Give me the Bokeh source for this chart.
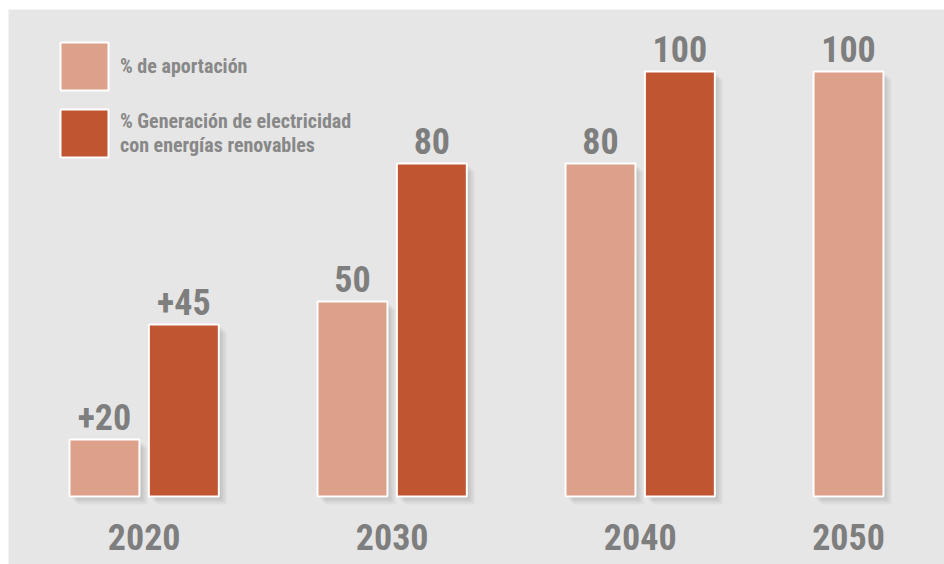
from bokeh.plotting import figure
from bokeh.models import ColumnDataSource, Range1d, Legend, LegendItem
from bokeh.core.properties import value
from bokeh.embed import file_html
from bokeh.resources import INLINE

# ---- data ----
years = ["2020", "2030", "2040", "2050"]
aportacion = [20, 50, 80, 100]
generacion = [45, 80, 100, None]
aport_labels = ["+20", "50", "80", "100"]
gen_labels = ["+45", "80", "100", ""]
series_names = ["% de aportación",
                "% Generación de electricidad\ncon energías renovables"]

# ---- style ----
LIGHT = "#dda08a"
DARK = "#c05532"
BG = "#e6e6e6"
TXT = "#7e7e7e"
LEG_TXT = "#888888"
FONT = "Roboto Condensed"
W, H = 944, 564
BASE = 7.6        # baseline value of the (non to scale) infographic bars
OFF = 0.16        # dodge between the two series within a year group
BAR_W = 0.282

idx = list(range(len(years)))
xa = [i - OFF for i in idx]
xg = [i + OFF for i in idx]

src_a = ColumnDataSource(dict(x=xa, top=aportacion, label=aport_labels))
gi = [i for i in idx if generacion[i] is not None]
src_g = ColumnDataSource(dict(x=[xg[i] for i in gi], top=[generacion[i] for i in gi],
                              label=[gen_labels[i] for i in gi]))
year_x = [xa[i] if generacion[i] is None else i for i in idx]
src_y = ColumnDataSource(dict(x=year_x, y=[BASE] * len(years), label=years))

p = figure(width=W, height=H,
           x_range=Range1d(-0.547, 3.227), y_range=Range1d(-7.17, 113.48),
           output_backend="svg", toolbar_location=None,
           min_border_left=8, min_border_top=9, min_border_right=0, min_border_bottom=0,
           background_fill_color=BG, border_fill_color="white", outline_line_color=None)
p.axis.visible = False
p.grid.visible = False

# soft drop shadows (derived from the same data, offset a few pixels)
px_x = 1 / 248.0
px_y = 1 / 4.6
for dx, dy, a in [(8, 8, 0.05), (6, 6, 0.07), (4, 4, 0.08), (2, 2, 0.08)]:
    for src_x, src_t in [(xa, aportacion), ([xg[i] for i in gi], [generacion[i] for i in gi])]:
        p.vbar(x=[v + dx * px_x for v in src_x], top=[t - dy * px_y for t in src_t],
               bottom=BASE - dy * px_y, width=BAR_W, fill_color="#555555",
               fill_alpha=a, line_color=None)

r_a = p.vbar(x="x", top="top", bottom=BASE, width=BAR_W, source=src_a,
             fill_color=LIGHT, line_color="white", line_width=2)
r_g = p.vbar(x="x", top="top", bottom=BASE, width=BAR_W, source=src_g,
             fill_color=DARK, line_color="white", line_width=2)

for src in (src_a, src_g):
    p.text(x="x", y="top", text="label", source=src, text_align="center",
           text_baseline="alphabetic", y_offset=-23, text_font=value(FONT),
           text_font_style="bold", text_font_size="36px", text_color=TXT)

p.text(x="x", y="y", text="label", source=src_y, text_align="center",
       text_baseline="alphabetic", y_offset=40, text_font=value(FONT),
       text_font_style="bold", text_font_size="36px", text_color=TXT)

legend = Legend(items=[LegendItem(label=series_names[0], renderers=[r_a]),
                       LegendItem(label=series_names[1], renderers=[r_g])],
                location=(46, 401), glyph_width=60, glyph_height=60, spacing=7,
                padding=0, margin=0, label_standoff=6,
                label_text_font=FONT, label_text_font_style="bold",
                label_text_font_size="20px", label_text_color=LEG_TXT,
                label_text_line_height=1.45,
                background_fill_alpha=0, border_line_color=None)
p.add_layout(legend)

open("out.html", "w").write(file_html(p, INLINE))
